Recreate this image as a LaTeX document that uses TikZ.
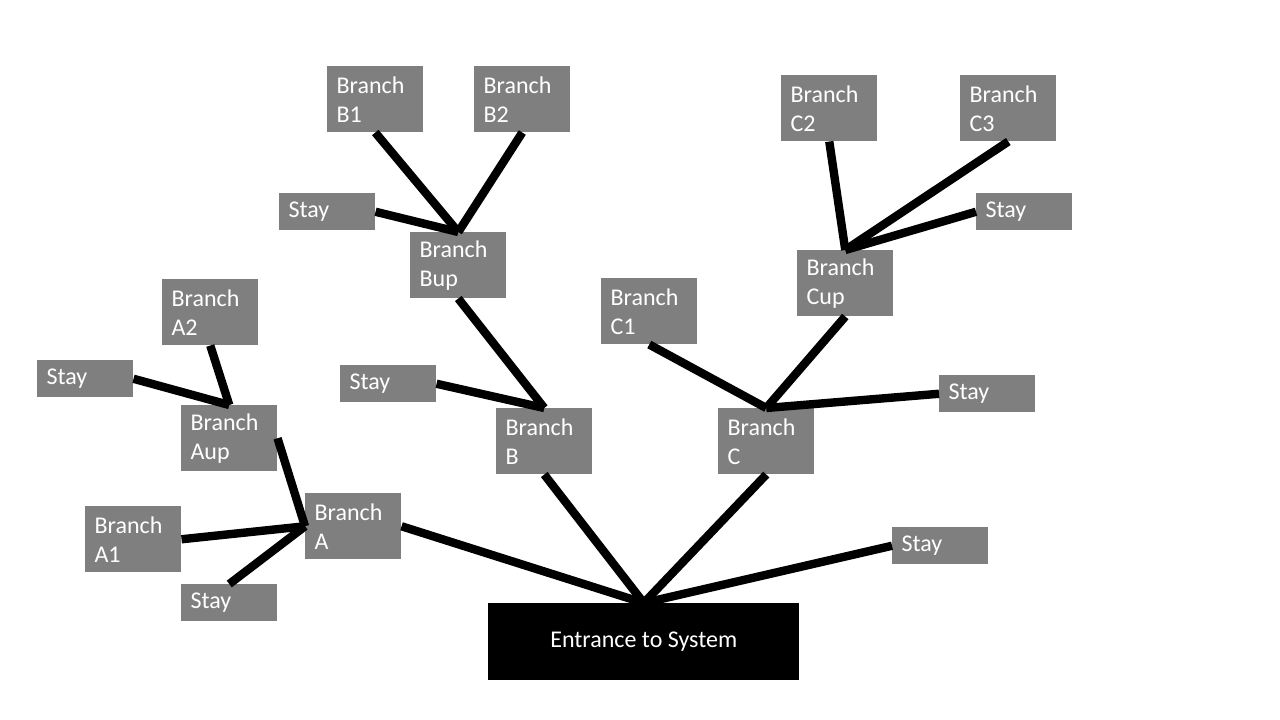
\documentclass[tikz,border=0pt]{standalone}
\usepackage{fontspec}
\setmainfont{Carlito}
\definecolor{boxgray}{RGB}{127,127,127}
\tikzset{
    branch/.style={fill=boxgray, text=white, anchor=north west, minimum width=71.25pt, minimum height=49.5pt,
        text width=58pt, align=left, inner xsep=7pt, font=\fontsize{18}{21.75}\selectfont},
    stay/.style={branch, minimum height=27.75pt},
    link/.style={line width=6.3pt}
}
\begin{document}
\begin{tikzpicture}[x=0.75pt, y=-0.75pt]
        \useasboundingbox (0,0) rectangle (1280,720);
        % entrance at the bottom
        \node[fill=black, text=white, anchor=north west, minimum width=233.25pt, minimum height=57.75pt,
            font=\fontsize{18}{21.75}\selectfont] (entry) at (488,603) {Entrance to System};
        \node[stay] (sRoot) at (892,527) {Stay};
        % branch A side
        \node[branch] (bA) at (305,493) {Branch\\A};
        \node[branch] (bA1) at (85,506) {Branch\\A1};
        \node[stay] (sA) at (181,584) {Stay};
        \node[branch] (bAup) at (181,405) {Branch\\Aup};
        \node[branch] (bA2) at (162,279) {Branch\\A2};
        \node[stay] (sAup) at (37,360) {Stay};
        % branch B side
        \node[branch] (bB) at (496,408) {Branch\\B};
        \node[stay] (sB) at (340,365) {Stay};
        \node[branch] (bBup) at (410,232) {Branch\\Bup};
        \node[stay] (sBup) at (279,193) {Stay};
        \node[branch] (bB1) at (327,66) {Branch\\B1};
        \node[branch] (bB2) at (474,66) {Branch\\B2};
        % branch C side
        \node[branch] (bC) at (718,408) {Branch\\C};
        \node[branch] (bC1) at (601,278) {Branch\\C1};
        \node[stay] (sC) at (939,375) {Stay};
        \node[branch] (bCup) at (797,250) {Branch\\Cup};
        \node[branch] (bC2) at (781,75) {Branch\\C2};
        \node[branch] (bC3) at (960,75) {Branch\\C3};
        \node[stay] (sCup) at (976,193) {Stay};
        % links
        \draw[link] (entry.north) -- (bA.east);
        \draw[link] (entry.north) -- (bB.south);
        \draw[link] (entry.north) -- (bC.south);
        \draw[link] (entry.north) -- (sRoot.west);
        \draw[link] (bA.west) -- (bA1.east);
        \draw[link] (bA.west) -- (sA.north);
        \draw[link] (bA.west) -- (bAup.east);
        \draw[link] (bAup.north) -- (bA2.south);
        \draw[link] (bAup.north) -- (sAup.east);
        \draw[link] (bB.north) -- (sB.east);
        \draw[link] (bB.north) -- (bBup.south);
        \draw[link] (bBup.north) -- (sBup.east);
        \draw[link] (bBup.north) -- (bB1.south);
        \draw[link] (bBup.north) -- (bB2.south);
        \draw[link] (bC.north) -- (bC1.south);
        \draw[link] (bC.north) -- (bCup.south);
        \draw[link] (bC.north) -- (sC.west);
        \draw[link] (bCup.north) -- (bC2.south);
        \draw[link] (bCup.north) -- (bC3.south);
        \draw[link] (bCup.north) -- (sCup.west);
    \end{tikzpicture}
\end{document}
